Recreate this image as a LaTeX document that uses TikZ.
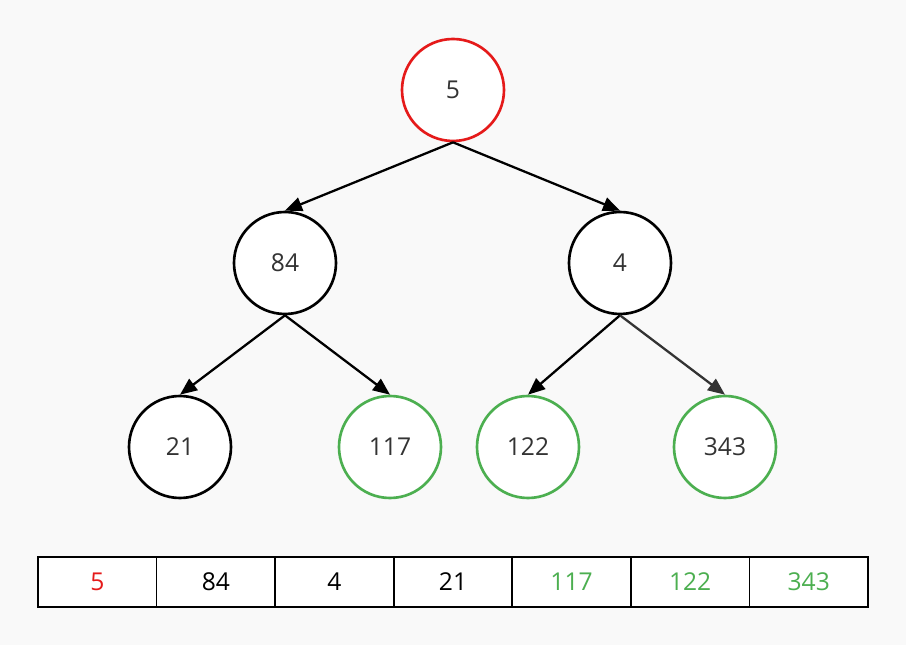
\documentclass[tikz,border=0pt]{standalone}
\usepackage{fontspec}
\setmainfont{Open Sans}
\usetikzlibrary{arrows.meta}

\definecolor{fondo}{HTML}{F9F9F9}
\definecolor{rojo}{HTML}{E51A1A}
\definecolor{verde}{HTML}{4CAF50}
\definecolor{texto}{HTML}{333333}

\tikzset{
    nodo/.style={circle, draw=black, fill=white, line width=1.5pt,
        minimum size=2.04cm, inner sep=0pt, text=texto,
        font=\fontsize{14}{16}\selectfont},
    flecha/.style={-{Triangle[length=0.34cm, width=0.28cm]}, line width=1.3pt},
    celda/.style={draw=black, line width=1pt, minimum width=2.3714cm,
        minimum height=1cm, inner sep=0pt, font=\fontsize{14}{16}\selectfont}
}

\begin{document}
\begin{tikzpicture}

    % 1. Fondo
    \fill[fondo] (0,0) rectangle (18.12,12.9);
    \useasboundingbox (0,0) rectangle (18.12,12.9);

    % 2. Nodos del arbol
    \node[nodo, draw=rojo] (raiz) at (9.06,11.1) {5};
    \node[nodo] (n84) at (5.70,7.64) {84};
    \node[nodo] (n4)  at (12.40,7.64) {4};
    \node[nodo] (n21)  at (3.60,3.96) {21};
    \node[nodo, draw=verde] (n117) at (7.80,3.96) {117};
    \node[nodo, draw=verde] (n122) at (10.56,3.96) {122};
    \node[nodo, draw=verde] (n343) at (14.50,3.96) {343};

    % 3. Aristas padre -> hijo
    \draw[flecha] (raiz.south) -- (n84.north);
    \draw[flecha] (raiz.south) -- (n4.north);
    \draw[flecha] (n84.south) -- (n21.north);
    \draw[flecha] (n84.south) -- (n117.north);
    \draw[flecha] (n4.south) -- (n122.north);
    \draw[flecha, texto] (n4.south) -- (n343.north);

    % 4. Arreglo del heap
    \foreach \val/\col [count=\i] in {5/rojo,84/black,4/black,21/black,117/verde,122/verde,343/verde} {
        \node[celda, fill=white, text=\col] (c\i) at ({0.76+2.3714*(\i-0.5)},1.26) {\val};
    }

\end{tikzpicture}
\end{document}
